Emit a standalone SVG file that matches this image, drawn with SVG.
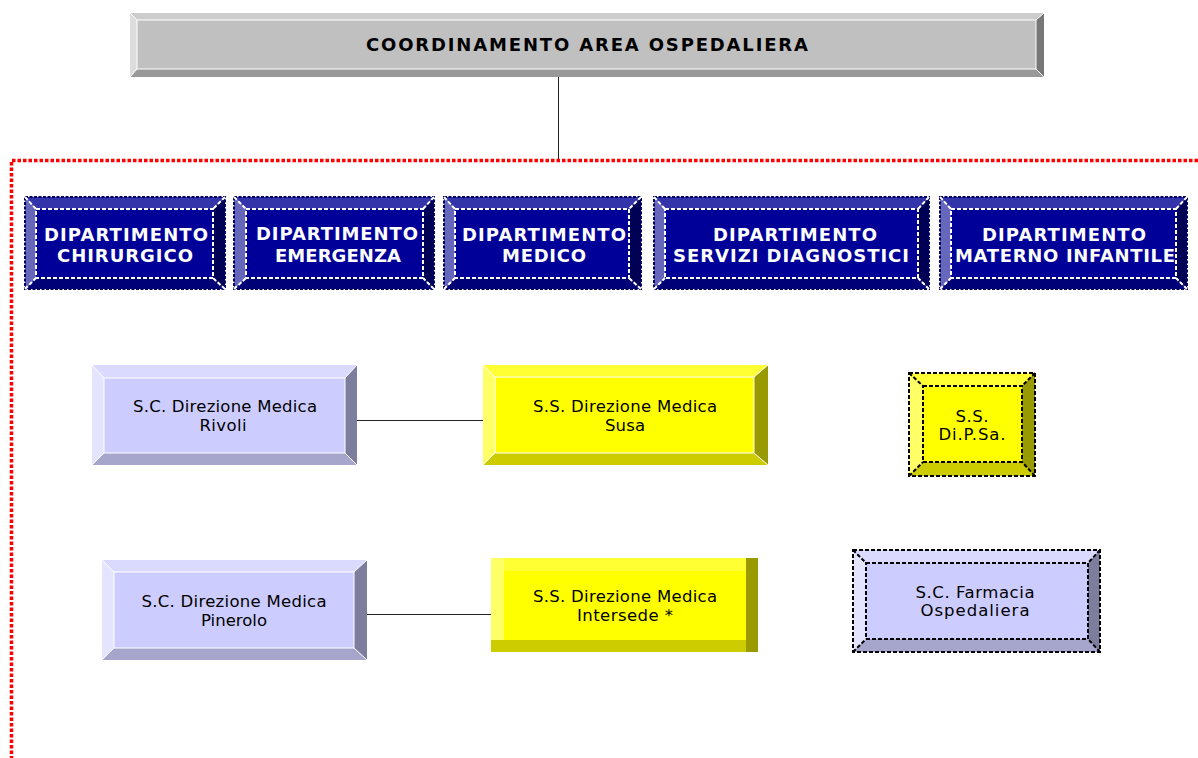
<svg xmlns="http://www.w3.org/2000/svg" width="1198" height="758" viewBox="0 0 1198 758">
<style>
text{font-family:"DejaVu Sans","Verdana",sans-serif;text-anchor:middle}
.b{font-weight:bold;font-size:18px}
.w{fill:#fff}
.r{font-size:16.5px;fill:#000}
.wl{stroke:#fff;stroke-width:1;fill:none}
.dw{stroke:#fff;stroke-width:2;fill:none;stroke-dasharray:4 2}
.dn{stroke:#000066;stroke-width:2;fill:none;stroke-dasharray:3 1.5}
.dk{stroke:#000;stroke-width:2;fill:none;stroke-dasharray:4 2}
.g1{fill:#cccccc}.g2{fill:#dddddd}.g3{fill:#999999}.g4{fill:#777777}.g5{fill:#c0c0c0}
.n1{fill:#3333aa}.n2{fill:#6666bb}.n3{fill:#000077}.n4{fill:#000055}.n5{fill:#000099}
.l1{fill:#dadaff}.l2{fill:#e4e4ff}.l3{fill:#a6a6cc}.l4{fill:#7d7d9e}.l5{fill:#ccccff}
.y1{fill:#ffff33}.y2{fill:#ffff66}.y3{fill:#cccc00}.y4{fill:#999900}.y5{fill:#ffff00}
.c{stroke:#222;stroke-width:1;fill:none}
.red{stroke:#ff0000;stroke-width:3.5;fill:none;stroke-dasharray:3.5 2}
</style>
<g id="connectors">
<line class="c" x1="558.5" y1="77" x2="558.5" y2="160"/>
<polyline class="red" points="1198,160.5 11.5,160.5 11.5,758"/>
<line class="c" x1="357" y1="420.5" x2="483" y2="420.5"/>
<line class="c" x1="367" y1="614.5" x2="491" y2="614.5"/>
</g>
<g id="coordinamento">
<polygon class="g1" points="130,13 1044,13 1036,20 137,20"/>
<polygon class="g2" points="130,13 137,20 137,69 130,77"/>
<polygon class="g3" points="130,77 137,69 1036,69 1044,77"/>
<polygon class="g4" points="1044,13 1044,77 1036,69 1036,20"/>
<rect class="g5" x="137" y="20" width="899" height="49"/>
<rect class="wl" x="137" y="20" width="899" height="49"/>
<path class="wl" d="M130,13L137,20M1044,13L1036,20M130,77L137,69M1044,77L1036,69"/>
<text class="b" x="587" y="51" textLength="442" lengthAdjust="spacing">COORDINAMENTO AREA OSPEDALIERA</text>
</g>
<g id="dip-chirurgico">
<polygon class="n1" points="25,197 225,197 213,209 36,209"/>
<polygon class="n2" points="25,197 36,209 36,278 25,289"/>
<polygon class="n3" points="25,289 36,278 213,278 225,289"/>
<polygon class="n4" points="225,197 225,289 213,278 213,209"/>
<rect class="n5" x="36" y="209" width="177" height="69"/>
<rect class="dn" x="25" y="197" width="200" height="92"/>
<rect class="dw" x="36" y="209" width="177" height="69"/>
<path class="dw" d="M25,197L36,209M225,197L213,209M25,289L36,278M225,289L213,278"/>
<text class="b w" x="126" y="241" textLength="164" lengthAdjust="spacing">DIPARTIMENTO</text>
<text class="b w" x="125" y="262" textLength="136" lengthAdjust="spacing">CHIRURGICO</text>
</g>
<g id="dip-emergenza">
<polygon class="n1" points="234,197 434,197 423,209 246,209"/>
<polygon class="n2" points="234,197 246,209 246,278 234,289"/>
<polygon class="n3" points="234,289 246,278 423,278 434,289"/>
<polygon class="n4" points="434,197 434,289 423,278 423,209"/>
<rect class="n5" x="246" y="209" width="177" height="69"/>
<rect class="dn" x="234" y="197" width="200" height="92"/>
<rect class="dw" x="246" y="209" width="177" height="69"/>
<path class="dw" d="M234,197L246,209M434,197L423,209M234,289L246,278M434,289L423,278"/>
<text class="b w" x="337" y="240" textLength="162" lengthAdjust="spacing">DIPARTIMENTO</text>
<text class="b w" x="338" y="262" textLength="126" lengthAdjust="spacing">EMERGENZA</text>
</g>
<g id="dip-medico">
<polygon class="n1" points="444,197 641,197 629,209 455,209"/>
<polygon class="n2" points="444,197 455,209 455,278 444,289"/>
<polygon class="n3" points="444,289 455,278 629,278 641,289"/>
<polygon class="n4" points="641,197 641,289 629,278 629,209"/>
<rect class="n5" x="455" y="209" width="174" height="69"/>
<rect class="dn" x="444" y="197" width="197" height="92"/>
<rect class="dw" x="455" y="209" width="174" height="69"/>
<path class="dw" d="M444,197L455,209M641,197L629,209M444,289L455,278M641,289L629,278"/>
<text class="b w" x="544" y="241" textLength="164" lengthAdjust="spacing">DIPARTIMENTO</text>
<text class="b w" x="544" y="262" textLength="84" lengthAdjust="spacing">MEDICO</text>
</g>
<g id="dip-servizi">
<polygon class="n1" points="654,197 929,197 918,209 665,209"/>
<polygon class="n2" points="654,197 665,209 665,278 654,289"/>
<polygon class="n3" points="654,289 665,278 918,278 929,289"/>
<polygon class="n4" points="929,197 929,289 918,278 918,209"/>
<rect class="n5" x="665" y="209" width="253" height="69"/>
<rect class="dn" x="654" y="197" width="275" height="92"/>
<rect class="dw" x="665" y="209" width="253" height="69"/>
<path class="dw" d="M654,197L665,209M929,197L918,209M654,289L665,278M929,289L918,278"/>
<text class="b w" x="795" y="241" textLength="164" lengthAdjust="spacing">DIPARTIMENTO</text>
<text class="b w" x="791" y="262" textLength="236" lengthAdjust="spacing">SERVIZI DIAGNOSTICI</text>
</g>
<g id="dip-materno">
<polygon class="n1" points="940,197 1187,197 1176,209 951,209"/>
<polygon class="n2" points="940,197 951,209 951,278 940,289"/>
<polygon class="n3" points="940,289 951,278 1176,278 1187,289"/>
<polygon class="n4" points="1187,197 1187,289 1176,278 1176,209"/>
<rect class="n5" x="951" y="209" width="225" height="69"/>
<rect class="dn" x="940" y="197" width="247" height="92"/>
<rect class="dw" x="951" y="209" width="225" height="69"/>
<path class="dw" d="M940,197L951,209M1187,197L1176,209M940,289L951,278M1187,289L1176,278"/>
<text class="b w" x="1064" y="241" textLength="164" lengthAdjust="spacing">DIPARTIMENTO</text>
<text class="b w" x="1065" y="262" textLength="220" lengthAdjust="spacing">MATERNO INFANTILE</text>
</g>
<g id="sc-rivoli">
<polygon class="l1" points="92,365 357,365 345,378 104,378"/>
<polygon class="l2" points="92,365 104,378 104,453 92,465"/>
<polygon class="l3" points="92,465 104,453 345,453 357,465"/>
<polygon class="l4" points="357,365 357,465 345,453 345,378"/>
<rect class="l5" x="104" y="378" width="241" height="75"/>
<rect class="wl" x="104" y="378" width="241" height="75"/>
<path class="wl" d="M92,365L104,378M357,365L345,378M92,465L104,453M357,465L345,453"/>
<text class="r" x="225" y="412" textLength="184" lengthAdjust="spacing">S.C. Direzione Medica</text>
<text class="r" x="223" y="431" textLength="47" lengthAdjust="spacing">Rivoli</text>
</g>
<g id="ss-susa">
<polygon class="y1" points="483,365 768,365 754,377 495,377"/>
<polygon class="y2" points="483,365 495,377 495,453 483,465"/>
<polygon class="y3" points="483,465 495,453 754,453 768,465"/>
<polygon class="y4" points="768,365 768,465 754,453 754,377"/>
<rect class="y5" x="495" y="377" width="259" height="76"/>
<rect class="wl" x="495" y="377" width="259" height="76"/>
<path class="wl" d="M483,365L495,377M768,365L754,377M483,465L495,453M768,465L754,453"/>
<text class="r" x="625" y="412" textLength="184" lengthAdjust="spacing">S.S. Direzione Medica</text>
<text class="r" x="625" y="431" textLength="40" lengthAdjust="spacing">Susa</text>
</g>
<g id="ss-dipsa">
<polygon class="y1" points="909,373 1035,373 1022,386 923,386"/>
<polygon class="y2" points="909,373 923,386 923,462 909,476"/>
<polygon class="y3" points="909,476 923,462 1022,462 1035,476"/>
<polygon class="y4" points="1035,373 1035,476 1022,462 1022,386"/>
<rect class="y5" x="923" y="386" width="99" height="76"/>
<rect class="dk" x="909" y="373" width="126" height="103"/>
<rect class="dk" x="923" y="386" width="99" height="76"/>
<path class="dk" d="M909,373L923,386M1035,373L1022,386M909,476L923,462M1035,476L1022,462"/>
<text class="r" x="972" y="422" textLength="33" lengthAdjust="spacing">S.S.</text>
<text class="r" x="972" y="440" textLength="67" lengthAdjust="spacing">Di.P.Sa.</text>
</g>
<g id="sc-pinerolo">
<polygon class="l1" points="102,560 367,560 354,572 114,572"/>
<polygon class="l2" points="102,560 114,572 114,648 102,660"/>
<polygon class="l3" points="102,660 114,648 354,648 367,660"/>
<polygon class="l4" points="367,560 367,660 354,648 354,572"/>
<rect class="l5" x="114" y="572" width="240" height="76"/>
<rect class="wl" x="114" y="572" width="240" height="76"/>
<path class="wl" d="M102,560L114,572M367,560L354,572M102,660L114,648M367,660L354,648"/>
<text class="r" x="234" y="607" textLength="185" lengthAdjust="spacing">S.C. Direzione Medica</text>
<text class="r" x="234" y="626" textLength="66" lengthAdjust="spacing">Pinerolo</text>
</g>
<g id="ss-intersede">
<rect class="y2" x="491" y="558" width="13" height="82"/>
<rect class="y1" x="504" y="558" width="242" height="13"/>
<rect class="y3" x="491" y="640" width="255" height="12"/>
<rect class="y4" x="746" y="558" width="12" height="94"/>
<rect class="y5" x="504" y="571" width="242" height="69"/>
<text class="r" x="625" y="602" textLength="184" lengthAdjust="spacing">S.S. Direzione Medica</text>
<text class="r" x="625" y="621" textLength="96" lengthAdjust="spacing">Intersede *</text>
</g>
<g id="sc-farmacia">
<polygon class="l1" points="853,550 1100,550 1088,563 866,563"/>
<polygon class="l2" points="853,550 866,563 866,639 853,652"/>
<polygon class="l3" points="853,652 866,639 1088,639 1100,652"/>
<polygon class="l4" points="1100,550 1100,652 1088,639 1088,563"/>
<rect class="l5" x="866" y="563" width="222" height="76"/>
<rect class="dk" x="853" y="550" width="247" height="102"/>
<rect class="dk" x="866" y="563" width="222" height="76"/>
<path class="dk" d="M853,550L866,563M1100,550L1088,563M853,652L866,639M1100,652L1088,639"/>
<text class="r" x="975" y="598" textLength="119" lengthAdjust="spacing">S.C. Farmacia</text>
<text class="r" x="975" y="616" textLength="109" lengthAdjust="spacing">Ospedaliera</text>
</g>
</svg>
